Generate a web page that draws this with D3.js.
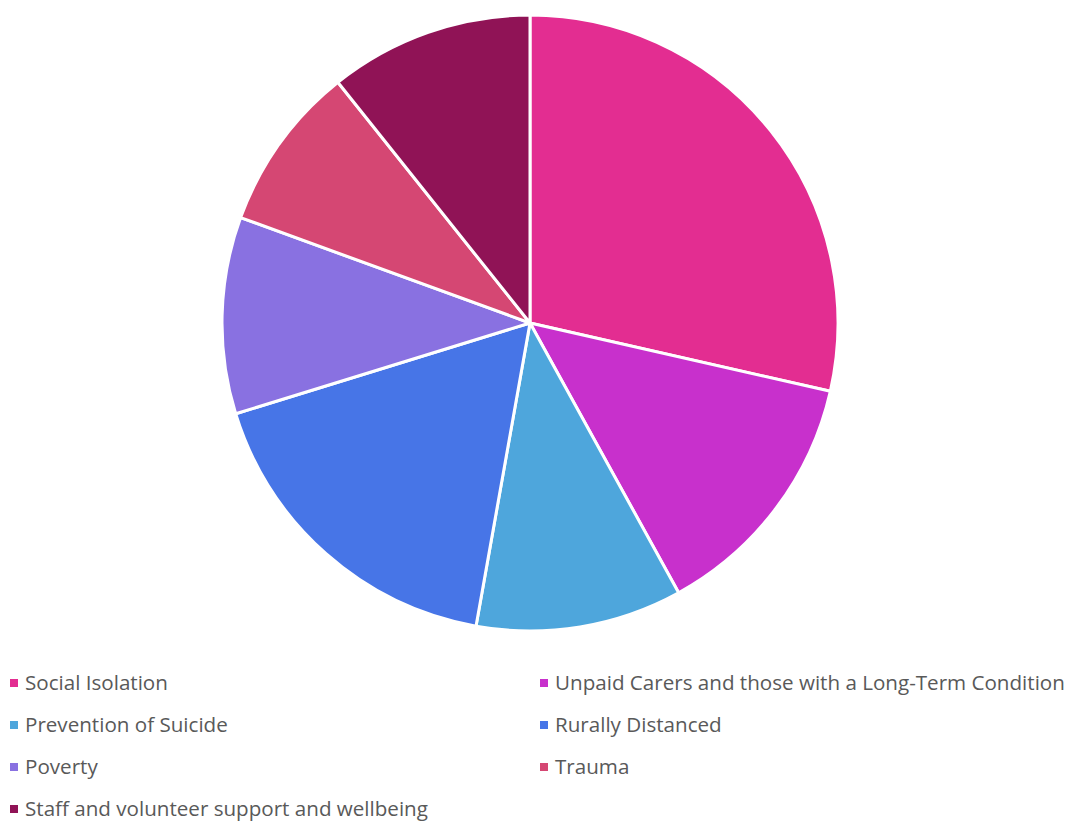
<!DOCTYPE html>
<html>
<head>
<meta charset="utf-8">
<script src="https://cdn.jsdelivr.net/npm/d3@7"></script>
<style>
  body { margin: 0; background: #fff; }
  svg { display: block; }
</style>
</head>
<body>
<svg id="chart" width="1065" height="821"></svg>
<script>
// categories and their share of the pie (percent)
const categories = [
  'Social Isolation',
  'Unpaid Carers and those with a Long-Term Condition',
  'Prevention of Suicide',
  'Rurally Distanced',
  'Poverty',
  'Trauma',
  'Staff and volunteer support and wellbeing'
];
const values = [28.5, 13.4, 10.8, 17.4, 10.3, 8.7, 10.7];
const colors = ['#E32D91', '#C830CC', '#4EA6DC', '#4775E7', '#8971E1', '#D54773', '#901356'];

const svg = d3.select('#chart');
const cx = 530, cy = 323, radius = 308;

const data = categories.map((c, i) => ({ name: c, value: values[i], color: colors[i] }));

const pie = d3.pie()
  .value(d => d.value)
  .sort(null);

const arc = d3.arc()
  .innerRadius(0)
  .outerRadius(radius);

// pie slices
const g = svg.append('g')
  .attr('transform', `translate(${cx},${cy})`);

g.selectAll('path')
  .data(pie(data))
  .join('path')
  .attr('d', arc)
  .attr('fill', d => d.data.color)
  .attr('stroke', '#fff')
  .attr('stroke-width', 3)
  .attr('stroke-linejoin', 'round');

// legend, two columns
const legend = svg.append('g')
  .attr('font-family', '"Open Sans", sans-serif')
  .attr('font-size', '20.6px')
  .attr('fill', '#595959');

const item = legend.selectAll('g')
  .data(data)
  .join('g')
  .attr('transform', (d, i) => `translate(${i % 2 === 0 ? 10 : 540}, ${683 + Math.floor(i / 2) * 42})`);

item.append('rect')
  .attr('x', 0)
  .attr('y', -4)
  .attr('width', 8)
  .attr('height', 8)
  .attr('fill', d => d.color);

item.append('text')
  .attr('x', 15)
  .attr('y', 0)
  .attr('dy', '0.35em')
  .text(d => d.name);
</script>
</body>
</html>
